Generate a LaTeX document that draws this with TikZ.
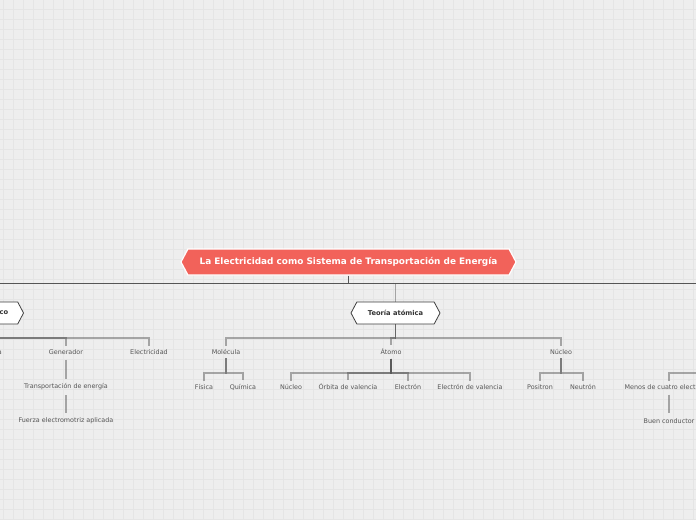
\documentclass[tikz,border=0pt]{standalone}
\usepackage{fontspec}
\setmainfont{DejaVu Sans}
\usetikzlibrary{shapes.symbols}
\definecolor{bg}{HTML}{EEEEEE}
\definecolor{gridc}{HTML}{E5E5E5}
\definecolor{rootc}{HTML}{F2625A}
\definecolor{leaftext}{HTML}{555555}
\definecolor{topline}{HTML}{555555}
\tikzset{
 rootbox/.style={shape=signal, signal to=west and east, signal pointer angle=124, fill=rootc, draw=white, line width=1.2, text=white, font=\fontsize{8.9}{10}\selectfont\bfseries, minimum height=26, minimum width=335, inner xsep=0},
 topicbox/.style={shape=signal, signal to=west and east, signal pointer angle=124, fill=white, draw=black!75, line width=0.8, text=black!80, font=\fontsize{6.7}{8}\selectfont\bfseries, minimum height=22, minimum width=89, inner xsep=0},
 topictext/.style={text=black!80, font=\fontsize{6.7}{8}\selectfont\bfseries, inner sep=0},
 leaf/.style={text=leaftext, font=\fontsize{6.4}{7.5}\selectfont, inner xsep=1, inner ysep=3.5},
 conn/.style={draw=black!70, draw opacity=0.45, line width=1.2},
 chain/.style={conn, shorten <=1.5, shorten >=1.5},
 trunk/.style={draw=topline, line width=1.4},
}
\begin{document}
\begin{tikzpicture}[x=1pt,y=-1pt]
\useasboundingbox (0,0) rectangle (696,520);
\clip (0,0) rectangle (696,520);
\fill[bg] (0,0) rectangle (696,520);
\foreach \i in {0,...,69} \draw[gridc, line width=0.8] (3.5+10*\i,0) -- ++(0,520);
\foreach \j in {0,...,51} \draw[gridc, line width=0.8] (0,9.5+10*\j) -- ++(696,0);

% main nodes
\node[rootbox] (root) at (348.5,262) {La Electricidad como Sistema de Transportación de Energía};
\node[topicbox] (teoria) at (395.5,313) {Teoría atómica};
\node[topicbox, minimum width=100, anchor=east] (ltopic) at (24,313) {};
\node[topictext, anchor=east] (ltext) at (8.5,313) {co};
\coordinate (rtopic) at (790,313);

% top-level connectors
\coordinate (hub) at (348.5,283.5);
\draw[trunk, line width=1.8] (root.south) -- (hub);
\draw[trunk] (hub -| ltopic.north) -- (hub -| rtopic);
\draw[conn] (hub -| teoria.north) -- (teoria.north);
\draw[conn] (hub -| ltopic.north) -- (ltopic.north);

% Teoria atomica children
\node[leaf] (mol) at (226,352) {Molécula};
\node[leaf] (atomo) at (391,352) {Átomo};
\node[leaf] (nuc) at (561,352) {Núcleo};
\coordinate (tj) at (395.5,338);
\foreach \c in {mol,atomo,nuc} \draw[conn] (teoria.south) -- (tj) -| (\c.north);

% Molecula
\node[leaf] (fis) at (204,387) {Física};
\node[leaf] (qui) at (243,387) {Química};
\coordinate (molj) at (226,373);
\foreach \c in {fis,qui} \draw[conn] (mol.south) -- (molj) -| (\c.north);

% Atomo
\node[leaf] (anuc) at (291,387) {Núcleo};
\node[leaf] (orb) at (348,387) {Órbita de valencia};
\node[leaf] (elec) at (408,387) {Electrón};
\node[leaf] (elecv) at (470,387) {Electrón de valencia};
\coordinate (atj) at (391,373);
\foreach \c in {anuc,orb,elec,elecv} \draw[conn] (atomo.south) -- (atj) -| (\c.north);

% Nucleo
\node[leaf] (pos) at (540,387) {Positron};
\node[leaf] (neu) at (583,387) {Neutrón};
\coordinate (nj) at (561,373);
\foreach \c in {pos,neu} \draw[conn] (nuc.south) -- (nj) -| (\c.north);

% left group
\node[leaf, anchor=east] (la) at (3,352) {\phantom{Baterí}a};
\node[leaf] (gen) at (66,352) {Generador};
\node[leaf] (elect) at (149,352) {Electricidad};
\coordinate (lj) at (ltopic.south |- tj);
\foreach \c in {la,gen,elect} \draw[conn] (ltopic.south) -- (lj) -| (\c.north);
\node[leaf] (trans) at (66,387) {Transportación de energía};
\node[leaf] (fuerza) at (66,421) {Fuerza electromotriz aplicada};
\draw[chain] (gen) -- (trans);
\draw[chain] (trans) -- (fuerza);

% right group
\coordinate (rpar) at (770,357);
\coordinate (rj) at (770,373);
\node[leaf] (menos) at (669,387) {Menos de cuatro electrones};
\node[leaf] (buen) at (669,421) {Buen conductor};
\draw[conn] (rpar) -- (rj) -| (menos.north);
\draw[chain] (menos) -- (buen);
\end{tikzpicture}
\end{document}
